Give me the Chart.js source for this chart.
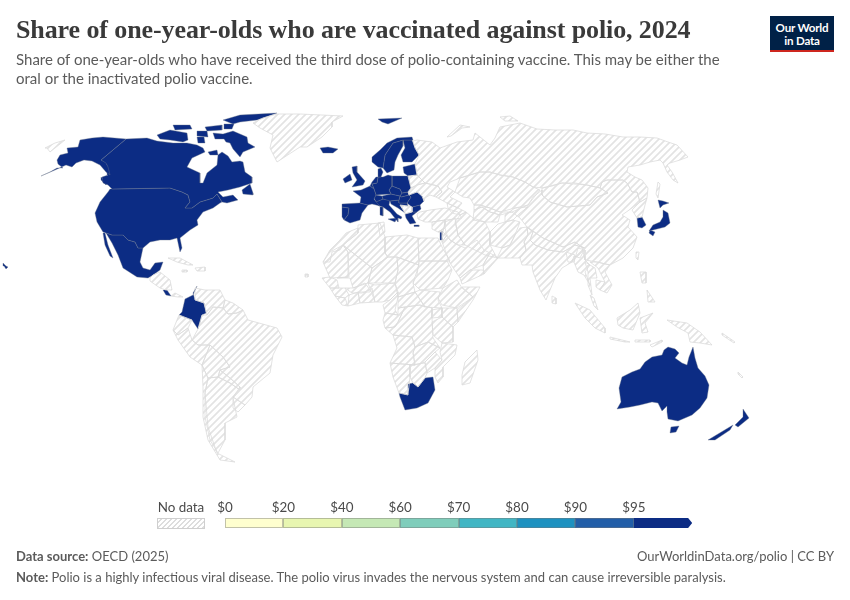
<!DOCTYPE html>
<html>
<head>
<meta charset="utf-8">
<title>Share of one-year-olds who are vaccinated against polio, 2024</title>
<script src="https://cdn.jsdelivr.net/npm/chart.js@4/dist/chart.umd.min.js"></script>
<style>
  html, body { margin:0; padding:0; background:#fff; }
  #page { position:relative; width:850px; height:600px; overflow:hidden; font-family:Lato, sans-serif; color:#5b5b5b; }
  #map { position:absolute; left:0; top:0; }
  #title { position:absolute; left:16px; top:15px; font:bold 26px "Liberation Serif", serif; color:#3a3a3a; white-space:nowrap; letter-spacing:-.1px; }
  #sub { position:absolute; left:16px; top:50px; width:730px; font-size:15px; line-height:19px; }
  #logo { position:absolute; left:770px; top:16px; width:64px; height:36px; background:#002147; border-bottom:2.5px solid #ce261e; box-sizing:border-box; color:#fff; font-weight:700; font-size:11.6px; line-height:13px; text-align:center; padding-top:5px; letter-spacing:-.2px; }
  .lbl { position:absolute; top:499px; font-size:13.4px; color:#4a4a4a; transform:translateX(-50%); white-space:nowrap; }
  .bin { position:absolute; top:518px; height:10px; box-sizing:border-box; border:0.5px solid rgba(120,120,120,.45); border-left-width:.5px; }
  #nodata { position:absolute; left:157px; top:518px; width:48px; height:11px; box-sizing:border-box; border:1px solid #cfcfcf; background:repeating-linear-gradient(135deg,#fff 0,#fff 2px,#ddd 2px,#ddd 3.5px); }
  .foot { position:absolute; font-size:13px; white-space:nowrap; }
</style>
</head>
<body>
<div id="page">
  <canvas id="map" width="850" height="600"></canvas>
  <div id="title">Share of one-year-olds who are vaccinated against polio, 2024</div>
  <div id="sub">Share of one-year-olds who have received the third dose of polio-containing vaccine. This may be either the<br>oral or the inactivated polio vaccine.</div>
  <div id="logo">Our World<br>in Data</div>
  <div class="lbl" style="left:181px">No data</div>
  <div id="nodata"></div>
  <div id="legend"></div>
  <div class="foot" style="left:16px;top:548px"><b>Data source:</b> OECD (2025)</div>
  <div class="foot" style="right:16px;top:548px">OurWorldinData.org/polio | CC BY</div>
  <div class="foot" style="left:16px;top:569px"><b>Note:</b> Polio is a highly infectious viral disease. The polio virus invades the nervous system and can cause irreversible paralysis.</div>
</div>
<script>
// Legend bins
const legendLabels = ['$0', '$20', '$40', '$60', '$70', '$80', '$90', '$95'];
const legendColors = ['#ffffcf', '#e8f6b1', '#c5e8b5', '#7fcdbb', '#41b6c4', '#1d91c0', '#225ea8', '#0c2c84'];

// Country outlines, map-plane x / y
// Vaccinated (top bin)
const alaska = [[41,176],[50,172],[57,168],[63,168],[58,164],[57,160],[60,155],[68,153],[67,148],[78,147],[80,140],[92,138],[103,137],[126,139],[101,160],[106,163],[108,167],[110,175],[106,172],[100,165],[92,161],[84,160],[76,163],[72,167],[66,165],[55,170]];
const canada = [[126,139],[147,138],[157,141],[173,143],[187,143],[197,145],[203,148],[205,152],[192,158],[187,167],[200,173],[200,183],[203,183],[207,173],[217,165],[218,155],[222,152],[228,156],[232,162],[240,161],[243,162],[245,172],[252,177],[252,183],[240,187],[228,190],[218,192],[223,197],[233,195],[238,200],[227,203],[222,202],[217,194],[213,198],[200,202],[192,208],[185,208],[190,202],[188,195],[182,192],[170,188],[112,189],[108,185],[103,183],[102,177],[108,175],[107,165],[101,160]];
const baffin = [[213,133],[223,134],[233,131],[247,137],[248,143],[255,147],[243,152],[240,157],[233,149],[230,143],[226,142],[224,139],[215,139]];
const victoriaIsland = [[157,135],[170,130],[187,133],[188,140],[183,142],[170,140],[160,139]];
const ellesmere = [[223,120],[240,115],[277,113],[257,120],[240,122],[233,124]];
const banksIsland = [[173,125],[190,125],[192,129],[175,130]];
const devonIsland = [[205,127],[222,125],[222,130],[207,131]];
const melvilleIsland = [[197,131],[207,131],[208,137],[197,136]];
const princeOfWales = [[197,137],[204,137],[205,143],[198,143]];
const axelHeiberg = [[224,124],[234,124],[232,129],[224,129]];
const southampton = [[208,152],[217,150],[218,155],[210,155]];
const newfoundland = [[242,190],[250,184],[253,193],[253,195],[243,194]];
const vancouverIsland = [[101,177],[107,183],[106,185],[101,180]];
const usa = [[112,189],[170,188],[182,192],[188,195],[190,202],[185,208],[192,208],[200,202],[213,198],[217,194],[222,202],[220,203],[213,208],[203,212],[197,220],[198,225],[190,230],[180,238],[182,248],[180,252],[177,238],[170,240],[160,240],[150,242],[143,248],[138,248],[135,242],[128,240],[123,235],[112,235],[103,232],[97,222],[95,213],[100,202],[108,192],[110,189]];
const mexico = [[106,233],[112,235],[123,235],[128,240],[135,242],[138,248],[143,248],[140,262],[143,268],[150,270],[155,263],[163,262],[160,270],[153,275],[148,278],[137,277],[123,268],[118,255],[112,243]];
const baja = [[103,233],[105,233],[108,245],[113,258],[110,256],[105,245]];
const hawaii = [[3,263],[6,266],[8,267],[6,269],[4,266]];
const costaRica = [[163,290],[167,290],[171,296],[166,295]];
const colombia = [[197,286],[193,295],[185,299],[182,312],[179,315],[192,320],[198,329],[202,315],[206,313],[204,303],[195,300],[193,293]];
const iceland = [[320,148],[328,147],[338,149],[333,153],[323,153]];
const svalbard = [[378,119],[402,118],[388,124],[382,122]];
const ireland = [[343,179],[350,174],[352,180],[345,183]];
const britain = [[352,167],[357,166],[357,172],[365,181],[363,185],[352,187],[357,180],[353,173]];
const norway = [[397,138],[412,137],[413,140],[403,140],[393,143],[385,155],[383,168],[378,167],[372,162],[372,157],[380,150],[387,143]];
const sweden = [[383,168],[385,155],[393,143],[403,140],[403,146],[398,155],[395,162],[394,170],[387,173]];
const finland = [[403,140],[412,140],[415,148],[419,155],[412,162],[403,162],[401,155],[405,148]];
const baltics = [[403,167],[415,164],[417,175],[408,176],[404,173]];
const denmark = [[378,169],[381,168],[383,172],[381,177],[378,177]];
const france = [[353,191],[361,190],[370,186],[374,189],[376,195],[374,199],[377,203],[380,206],[372,204],[368,205],[360,203],[361,197]];
const spain = [[342,204],[360,203],[368,205],[362,213],[360,220],[350,223],[344,220],[348,215],[349,208],[342,207]];
const portugal = [[342,207],[349,208],[348,215],[344,220],[342,217]];
const benelux = [[370,186],[372,182],[376,177],[378,177],[377,183],[372,184],[374,189]];
const germany = [[378,177],[383,177],[388,175],[392,176],[392,186],[389,190],[391,194],[376,195],[374,189],[372,184],[377,183]];
const poland = [[392,176],[408,176],[411,188],[408,192],[402,193],[400,189],[392,186]];
const czechia = [[391,194],[389,190],[392,186],[400,189],[402,193],[400,196]];
const slovakia = [[402,193],[408,192],[409,195],[401,197],[400,196]];
const austria = [[382,196],[391,194],[400,196],[399,200],[390,201],[383,199]];
const hungary = [[401,197],[409,195],[411,197],[407,203],[399,203],[399,200],[400,196]];
const switzerland = [[374,198],[376,195],[382,196],[383,199],[376,202]];
const italy = [[375,202],[383,199],[390,200],[389,205],[397,214],[402,217],[401,219],[398,218],[398,222],[390,212],[383,207],[379,206]];
const sicily = [[388,219],[397,218],[395,222]];
const sardinia = [[380,207],[383,207],[383,216],[380,215]];
const croatia = [[390,201],[399,200],[399,203],[407,203],[408,206],[400,205],[405,213],[398,208],[391,204]];
const romania = [[409,195],[417,192],[422,196],[424,201],[420,205],[412,207],[407,203],[411,197]];
const bulgaria = [[412,207],[420,205],[421,209],[417,212],[412,212]];
const greece = [[405,214],[412,212],[417,212],[412,216],[416,223],[410,224],[406,218]];
const crete = [[414,225],[419,225],[419,226.5],[414,226.5]];
const israel = [[440,231],[442,231],[442,240],[440,240]];
const hokkaido = [[658,200],[663,201],[669,203],[663,205],[660,208]];
const honshu = [[663,210],[668,213],[670,223],[665,227],[653,230],[649,231],[653,225],[660,222],[663,217]];
const kyushu = [[650,230],[655,232],[653,236],[649,233]];
const southKorea = [[637,218],[642,217],[646,225],[642,228],[638,227]];
const australia = [[622,377],[632,372],[640,369],[645,362],[652,357],[662,355],[664,350],[668,347],[675,349],[679,353],[675,358],[682,363],[687,365],[689,357],[693,347],[695,358],[698,368],[705,376],[709,385],[707,398],[700,408],[692,415],[678,421],[668,419],[667,412],[667,406],[662,411],[658,403],[652,402],[640,405],[630,407],[617,409],[621,402],[619,388]];
const tasmania = [[671,427],[679,426],[676,432],[670,433]];
const nzSouth = [[708,440],[733,425],[730,430],[715,440]];
const nzNorth = [[735,425],[743,417],[743,409],[749,418],[738,427]];
const southAfrica = [[399,393],[408,395],[408,384],[413,383],[418,387],[425,378],[433,377],[435,390],[428,403],[417,408],[405,410],[400,397]];

// No data
const greenland = [[277,114],[300,114],[343,116],[332,122],[332,127],[322,137],[307,147],[300,147],[277,162],[270,148],[273,135],[260,128],[253,123],[263,118]];
const russia = [[413,141],[417,140],[432,142],[440,148],[457,142],[473,140],[475,133],[490,145],[495,138],[500,127],[510,125],[520,123],[537,129],[555,130],[573,130],[587,133],[605,134],[623,137],[640,137],[657,138],[668,142],[677,145],[688,157],[680,160],[670,163],[667,165],[672,172],[678,183],[673,180],[667,172],[663,163],[660,160],[650,162],[640,165],[628,167],[627,172],[635,177],[642,180],[648,188],[647,198],[640,202],[637,192],[632,192],[627,183],[623,180],[607,180],[602,182],[600,188],[587,185],[575,183],[562,183],[552,186],[543,188],[533,187],[525,182],[513,177],[500,175],[490,172],[480,172],[470,175],[460,178],[450,182],[447,187],[455,192],[450,197],[462,203],[458,208],[447,203],[436,197],[442,192],[438,186],[425,183],[417,175],[415,164],[419,155],[415,148]];
const chukotka = [[45,148],[55,143],[65,140],[55,148],[50,152],[47,148]];
const novayaZemlya = [[447,137],[460,125],[470,127],[462,128],[451,136]];
const severnaya = [[500,117],[510,116],[518,121],[505,121]];
const sakhalin = [[658,182],[660,184],[658,198],[656,194]];
const kazakhstan = [[455,192],[460,178],[470,175],[480,172],[490,172],[500,175],[513,177],[525,182],[533,187],[540,190],[535,196],[528,205],[515,208],[500,212],[490,208],[480,205],[474,205],[470,198],[463,197]];
const turkmenistan = [[474,210],[482,207],[490,212],[500,215],[498,222],[485,222],[473,220]];
const uzbekistan = [[474,205],[480,205],[490,208],[500,212],[512,212],[500,215],[490,212],[482,207],[474,210]];
const tajikKyrgyz = [[505,215],[515,208],[528,207],[520,213],[513,220],[505,222]];
const mongolia = [[542,188],[562,183],[587,185],[600,188],[608,193],[597,197],[590,205],[567,207],[550,202],[542,195]];
const china = [[533,197],[542,190],[542,195],[550,202],[567,207],[590,205],[597,197],[608,193],[600,188],[602,182],[607,180],[623,180],[627,183],[632,192],[637,192],[640,202],[632,208],[622,215],[630,220],[628,227],[637,237],[633,248],[623,258],[610,265],[597,262],[585,260],[582,247],[575,242],[563,247],[543,238],[527,227],[520,218],[512,212],[528,205]];
const northKorea = [[640,202],[647,198],[645,205],[642,217],[637,218],[632,210]];
const taiwan = [[636,252],[639,252],[638,260],[636,258]];
const nepal = [[527,227],[543,238],[563,247],[575,242],[582,247],[585,248],[575,245],[563,252],[548,250],[535,245],[530,240],[533,232]];
const india = [[527,227],[533,232],[530,240],[535,245],[548,250],[563,252],[575,245],[585,248],[580,258],[574,256],[572,262],[562,268],[555,278],[550,290],[546,300],[540,290],[533,272],[532,265],[522,265],[520,258],[526,250],[524,242],[528,235]];
const pakistan = [[527,227],[528,235],[524,242],[526,250],[520,258],[510,258],[497,258],[502,248],[510,245],[515,235],[520,228]];
const afghanistan = [[505,222],[513,220],[520,222],[515,235],[510,245],[502,248],[490,245],[490,232],[498,224]];
const iran = [[466,212],[473,218],[485,222],[490,232],[490,245],[497,258],[485,255],[475,250],[465,245],[458,235],[455,222],[460,215]];
const iraq = [[445,222],[455,218],[458,235],[465,245],[458,245],[450,240],[443,232]];
const syria = [[432,222],[445,220],[445,228],[438,232],[432,229]];
const jordan = [[438,232],[445,228],[447,235],[442,242],[442,232]];
const saudi = [[447,235],[450,240],[458,245],[465,248],[477,240],[484,250],[490,253],[483,265],[470,270],[460,278],[450,263],[442,242]];
const yemen = [[460,278],[470,270],[483,270],[484,274],[462,284]];
const oman = [[490,253],[498,258],[484,274],[483,265]];
const turkey = [[420,212],[430,210],[445,208],[458,212],[462,218],[455,219],[445,220],[432,222],[425,222],[418,219],[417,214]];
const ukraine = [[411,188],[417,185],[425,183],[438,186],[442,192],[436,197],[430,195],[425,198],[424,201],[422,196],[417,192],[409,195],[408,192]];
const belarus = [[408,176],[417,175],[425,183],[417,185],[411,188]];
const caucasus = [[447,203],[458,208],[462,210],[466,212],[460,215],[452,213],[448,208]];
const westBalkans = [[400,205],[408,206],[412,207],[412,212],[405,214],[405,213]];
const morocco = [[323,262],[330,250],[340,240],[346,233],[358,228],[358,233],[343,245],[340,250],[332,252],[330,262]];
const algeria = [[343,245],[358,233],[358,225],[380,223],[385,237],[385,253],[388,257],[372,268]];
const tunisia = [[378,223],[384,222],[385,232],[380,236]];
const libya = [[385,237],[407,235],[418,238],[419,265],[397,257],[388,257],[385,253]];
const egypt = [[418,238],[438,238],[442,247],[450,261],[419,261]];
const sudan = [[419,261],[447,261],[452,270],[448,280],[443,288],[420,290],[413,283],[417,275]];
const chad = [[397,257],[419,265],[413,283],[415,292],[398,297],[395,283],[398,270]];
const niger = [[388,257],[397,257],[398,270],[395,283],[368,283],[372,268]];
const mali = [[343,245],[372,268],[368,283],[353,288],[350,278],[337,278],[348,277],[348,252]];
const mauritania = [[330,252],[343,245],[348,252],[349,277],[330,278],[323,262]];
const senegal = [[322,278],[330,277],[337,280],[339,288],[330,288]];
const guinea = [[330,288],[339,288],[345,288],[349,295],[345,298],[335,296]];
const liberia = [[335,296],[345,298],[348,306],[342,305]];
const ivoryCoast = [[349,295],[358,292],[360,303],[348,306]];
const burkina = [[345,288],[353,288],[365,283],[370,290],[362,293],[352,293]];
const ghanaBenin = [[358,292],[370,292],[372,288],[375,302],[360,303]];
const nigeria = [[368,283],[375,285],[395,283],[398,292],[390,300],[382,302],[375,302]];
const cameroon = [[398,292],[398,297],[395,310],[398,315],[385,313],[383,305],[390,300]];
const car = [[398,297],[415,292],[425,307],[420,305],[405,307],[398,308]];
const southSudan = [[415,292],[420,290],[440,292],[438,300],[442,308],[425,307]];
const ethiopia = [[443,288],[457,280],[462,288],[473,297],[457,308],[442,305],[438,298]];
const somalia = [[462,287],[480,287],[473,300],[458,322],[457,310],[473,297]];
const kenya = [[442,308],[457,308],[458,322],[453,327],[442,317]];
const uganda = [[432,310],[442,308],[442,317],[432,318]];
const drc = [[405,307],[420,305],[432,308],[432,318],[433,338],[440,348],[428,342],[415,347],[412,337],[393,335],[385,328],[395,327],[398,322]];
const congo = [[385,313],[398,315],[398,308],[405,307],[398,322],[395,327],[385,328],[383,320]];
const tanzania = [[432,322],[442,317],[453,327],[453,342],[442,343],[433,335]];
const angola = [[393,335],[412,337],[415,347],[413,353],[415,365],[390,363],[397,348]];
const zambia = [[415,347],[428,342],[440,348],[435,352],[425,362],[415,365],[413,353]];
const mozambique = [[442,343],[457,345],[455,355],[443,367],[443,377],[438,383],[435,377],[435,368],[442,360],[440,352]];
const zimbabwe = [[425,362],[435,352],[442,360],[435,368],[427,373]];
const botswana = [[410,365],[425,363],[427,373],[425,378],[418,387],[413,383],[410,377]];
const namibia = [[390,363],[415,365],[410,365],[410,377],[408,395],[399,393],[393,377]];
const madagascar = [[477,350],[478,360],[470,383],[462,385],[462,375],[465,362]];
const capeVerde = [[305,274],[308,274],[308,277],[305,277]];
const venezuela = [[195,288],[205,290],[220,290],[225,300],[223,308],[213,307],[207,315],[204,303],[195,300]];
const guianas = [[225,300],[233,303],[243,310],[237,313],[228,314],[223,308]];
const brazil = [[198,329],[202,315],[207,315],[213,307],[223,308],[228,314],[237,313],[243,310],[248,320],[277,328],[282,337],[273,355],[270,373],[253,387],[252,397],[245,405],[233,397],[240,387],[230,378],[220,370],[230,367],[223,357],[210,345],[198,345],[192,340]];
const ecuador = [[179,315],[192,320],[188,328],[178,335],[173,330]];
const peru = [[173,330],[178,335],[188,328],[192,340],[198,345],[210,345],[202,365],[190,357],[178,340]];
const bolivia = [[210,345],[223,357],[230,367],[220,370],[218,377],[208,378],[202,365]];
const chile = [[202,365],[208,378],[205,393],[208,427],[217,453],[235,462],[220,460],[208,440],[203,417],[203,387]];
const argentina = [[208,378],[218,377],[230,383],[240,390],[233,398],[237,417],[225,423],[225,440],[218,453],[210,440],[205,417],[205,393]];
const paraguay = [[218,377],[220,370],[230,378],[240,387],[240,390],[230,383]];
const uruguay = [[233,397],[245,405],[238,412],[233,408]];
const centralAmerica = [[150,278],[153,275],[160,272],[170,280],[172,290],[166,290],[160,288],[150,281]];
const panama = [[171,296],[175,293],[183,297],[178,297]];
const cuba = [[168,258],[180,258],[193,265],[188,265],[177,262]];
const hispaniola = [[195,268],[205,267],[205,271],[197,271]];
const jamaica = [[182,270],[187,270],[187,272],[182,272]];
const myanmar = [[578,248],[585,250],[585,260],[590,265],[585,272],[590,285],[584,275],[578,272],[574,262]];
const thailand = [[585,262],[595,268],[597,278],[590,278],[592,295],[588,285],[588,272]];
const laosVietnam = [[590,262],[597,262],[610,265],[605,272],[612,285],[607,293],[600,290],[605,282],[598,268]];
const cambodia = [[596,280],[605,282],[600,290],[596,287]];
const malaya = [[590,295],[594,298],[598,310],[594,306]];
const sumatra = [[575,303],[590,310],[605,328],[605,333],[595,328],[585,318]];
const java = [[610,337],[630,342],[625,342],[610,339]];
const borneo = [[617,318],[630,310],[638,303],[640,313],[633,330],[623,328],[618,325]];
const sulawesi = [[640,318],[653,313],[645,323],[648,332],[642,333]];
const newGuinea = [[667,320],[687,323],[700,332],[712,345],[700,343],[690,342],[688,333],[677,327]];
const luzon = [[640,272],[646,272],[646,283],[642,283]];
const mindanao = [[647,290],[655,302],[648,302]];
const timor = [[650,345],[662,340],[662,342],[652,347]];
const sunda = [[635,340],[650,340],[650,342],[635,342]];
const solomons = [[722,333],[735,342],[734,343],[722,335]];
const newCaledonia = [[738,372],[743,377],[742,378],[738,374]];
const sriLanka = [[552,296],[556,298],[556,304],[552,303]];
const bangladesh = [[566,252],[575,255],[574,262],[568,262]];

const vaccinated = [alaska, canada, baffin, victoriaIsland, ellesmere, banksIsland, devonIsland, melvilleIsland, princeOfWales, axelHeiberg, southampton, newfoundland, vancouverIsland, usa, mexico, baja, hawaii, costaRica, colombia, iceland, svalbard, ireland, britain, norway, sweden, finland, baltics, denmark, france, spain, portugal, benelux, germany, poland, czechia, slovakia, austria, hungary, switzerland, italy, sicily, sardinia, croatia, romania, bulgaria, greece, crete, israel, hokkaido, honshu, kyushu, southKorea, australia, tasmania, nzSouth, nzNorth, southAfrica];
const noData = [greenland, russia, chukotka, novayaZemlya, severnaya, sakhalin, kazakhstan, turkmenistan, uzbekistan, tajikKyrgyz, mongolia, china, northKorea, taiwan, nepal, india, pakistan, afghanistan, iran, iraq, syria, jordan, saudi, yemen, oman, turkey, ukraine, belarus, caucasus, westBalkans, morocco, algeria, tunisia, libya, egypt, sudan, chad, niger, mali, mauritania, senegal, guinea, liberia, ivoryCoast, burkina, ghanaBenin, nigeria, cameroon, car, southSudan, ethiopia, somalia, kenya, uganda, drc, congo, tanzania, angola, zambia, mozambique, zimbabwe, botswana, namibia, madagascar, capeVerde, venezuela, guianas, brazil, ecuador, peru, bolivia, chile, argentina, paraguay, uruguay, centralAmerica, panama, cuba, hispaniola, jamaica, myanmar, thailand, laosVietnam, cambodia, malaya, sumatra, java, borneo, sulawesi, newGuinea, luzon, mindanao, timor, sunda, solomons, newCaledonia, sriLanka, bangladesh];
const lesotho = [[423,397],[427,394],[429,397],[426,399]];

// Diagonal hatch for the countries without data
function hatchPattern(){
  const tile = document.createElement('canvas');
  tile.width = 7; tile.height = 7;
  const c = tile.getContext('2d');
  c.strokeStyle = '#e3e3e3';
  c.lineWidth = 1.7;
  c.beginPath();
  c.moveTo(-1, 8); c.lineTo(8, -1);
  c.moveTo(-4, 4); c.lineTo(4, -4);
  c.moveTo(3, 11); c.lineTo(11, 3);
  c.stroke();
  return c.createPattern(tile, 'repeat');
}

function shape(points, fill, stroke, width){
  return {
    data: points.concat([points[0]]),
    showLine: true,
    fill: 'shape',
    backgroundColor: fill,
    borderColor: stroke,
    borderWidth: width,
    pointRadius: 0,
    tension: 0
  };
}

function drawMap(){
  const hatch = hatchPattern();
  const blue = legendColors[legendColors.length - 1];
  const datasets = [];
  noData.forEach(p => datasets.push(shape(p, hatch, '#dcdcdc', 0.8)));
  vaccinated.forEach(p => datasets.push(shape(p, blue, 'rgba(110,120,140,.75)', 0.5)));
  datasets.push(shape(lesotho, '#fff', '#dcdcdc', 0.5));

  new Chart(document.getElementById('map').getContext('2d'), {
    type: 'scatter',
    data: { datasets },
    options: {
      responsive: false,
      animation: false,
      layout: { padding: 0 },
      plugins: { legend: { display:false }, tooltip: { enabled:false } },
      scales: {
        x: { type:'linear', display:false, min:0, max:850 },
        y: { type:'linear', display:false, min:0, max:600, reverse:true }
      }
    }
  });
}

function drawLegend(){
  const box = document.getElementById('legend');
  const left = 225, step = 58.4;
  legendColors.forEach((col, i) => {
    const bin = document.createElement('div');
    bin.className = 'bin';
    bin.style.left = (left + i * step) + 'px';
    bin.style.width = step + 'px';
    bin.style.background = col;
    if(i === legendColors.length - 1){
      bin.style.border = 'none';
      bin.style.clipPath = 'polygon(0 0, 93% 0, 100% 50%, 93% 100%, 0 100%)';
    }
    box.appendChild(bin);
    const lab = document.createElement('div');
    lab.className = 'lbl';
    lab.style.left = (left + i * step) + 'px';
    lab.textContent = legendLabels[i];
    box.appendChild(lab);
  });
}

document.addEventListener('DOMContentLoaded', () => {
  drawMap();
  drawLegend();
});
</script>
</body>
</html>
